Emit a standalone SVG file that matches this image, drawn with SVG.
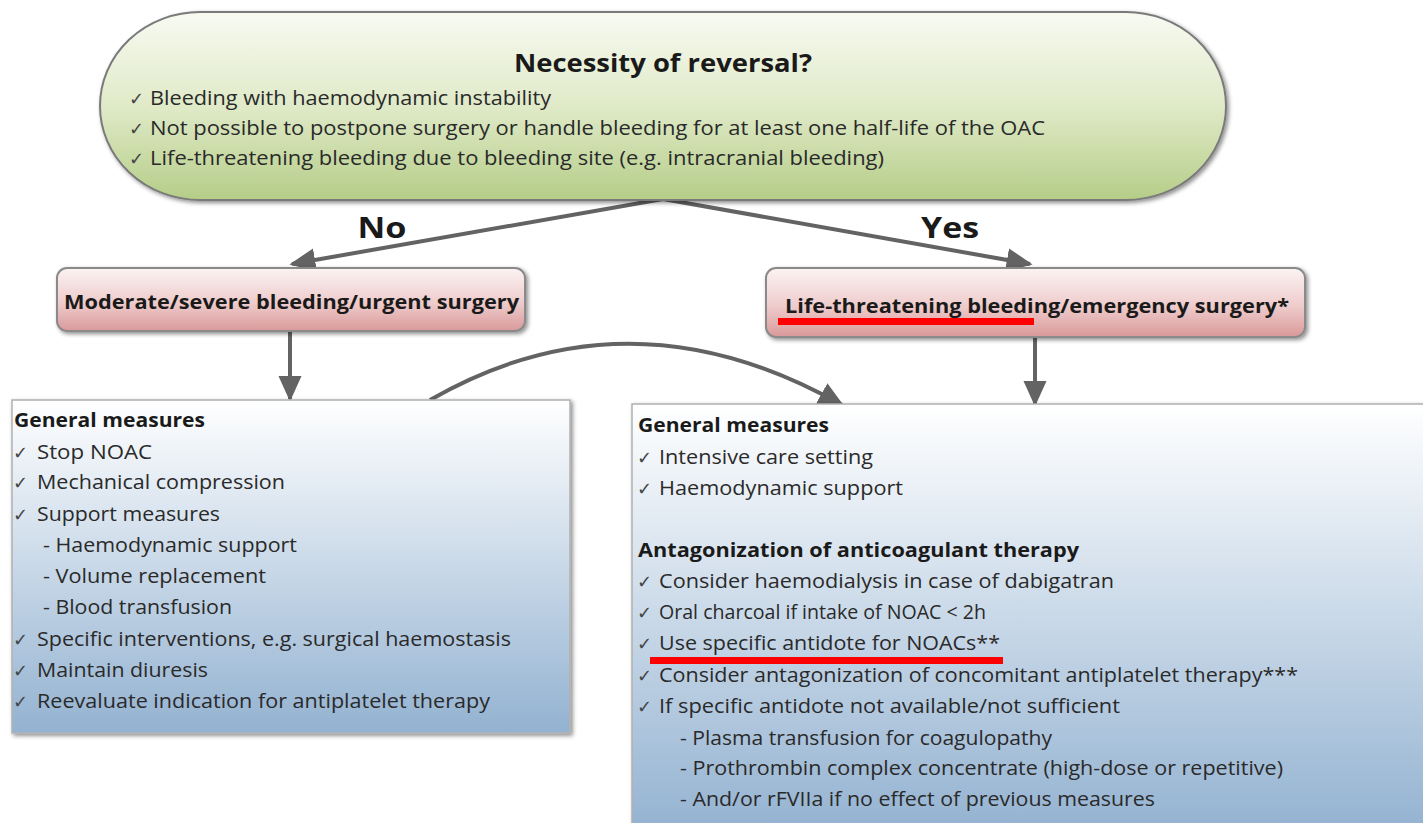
<svg xmlns="http://www.w3.org/2000/svg" width="1423" height="823" viewBox="0 0 1423 823">
<defs>
<linearGradient id="gGreen" x1="0" y1="0" x2="0" y2="1">
<stop offset="0" stop-color="#f8faf2"/>
<stop offset="0.5" stop-color="#e0eac8"/>
<stop offset="1" stop-color="#b5cd88"/>
</linearGradient>
<linearGradient id="gRed" x1="0" y1="0" x2="0" y2="1">
<stop offset="0" stop-color="#fbf3f3"/>
<stop offset="0.55" stop-color="#efcccc"/>
<stop offset="1" stop-color="#d9999a"/>
</linearGradient>
<linearGradient id="gBlue" x1="0" y1="0" x2="0" y2="1">
<stop offset="0" stop-color="#ffffff"/>
<stop offset="1" stop-color="#93b2d1"/>
</linearGradient>
<filter id="sh" x="-5%" y="-5%" width="110%" height="115%">
<feDropShadow dx="2" dy="2" stdDeviation="2" flood-color="#000" flood-opacity="0.45"/>
</filter>
<marker id="ah" viewBox="0 0 10 10" refX="9" refY="5" markerWidth="26" markerHeight="26" markerUnits="userSpaceOnUse" orient="auto">
<path d="M0,0.5 L10,5 L0,9.5 Z" fill="#636363"/>
</marker>
<style>
.t{font-family:"Open Sans","Noto Sans","Liberation Sans",sans-serif;fill:#2a2a2a;font-size:20px}
.b{font-family:"Open Sans","Noto Sans","Liberation Sans",sans-serif;fill:#1a1a1a;font-weight:bold}
.ck{font-family:"DejaVu Sans",sans-serif;fill:#444;font-size:18px}
.con{fill:none;stroke:#636363;stroke-width:4;marker-end:url(#ah)}
.ul{fill:#ff0000}
</style>
</defs>
<rect width="1423" height="823" fill="#ffffff"/>

<g id="connectors">
<path class="con" d="M663,199 L292,264"/>
<path class="con" d="M663,199 L1030,264"/>
<path class="con" d="M290,331 L290,399"/>
<path class="con" d="M1035,337 L1035,404"/>
<path class="con" d="M430,400 Q630,285 842,405"/>
</g>

<g id="n-reversal">
<rect x="100" y="12" width="1126" height="188" rx="100" ry="94" fill="url(#gGreen)" stroke="#7a7a7a" stroke-width="2" filter="url(#sh)"/>
<text class="b" x="663" y="72" text-anchor="middle" font-size="25" textLength="298" lengthAdjust="spacingAndGlyphs">Necessity of reversal?</text>
<text class="ck" x="129" y="105">✓</text>
<text class="t" x="150" y="105" textLength="401" lengthAdjust="spacingAndGlyphs">Bleeding with haemodynamic instability</text>
<text class="ck" x="129" y="135">✓</text>
<text class="t" x="150" y="135" textLength="895" lengthAdjust="spacingAndGlyphs">Not possible to postpone surgery or handle bleeding for at least one half-life of the OAC</text>
<text class="ck" x="129" y="165">✓</text>
<text class="t" x="150" y="165" textLength="734" lengthAdjust="spacingAndGlyphs">Life-threatening bleeding due to bleeding site (e.g. intracranial bleeding)</text>
</g>

<g id="label-no">
<text class="b" x="382" y="238" text-anchor="middle" font-size="28" textLength="49" lengthAdjust="spacingAndGlyphs">No</text>
</g>
<g id="label-yes">
<text class="b" x="950" y="238" text-anchor="middle" font-size="28" textLength="58" lengthAdjust="spacingAndGlyphs">Yes</text>
</g>

<g id="n-moderate">
<rect x="57" y="268" width="468" height="63" rx="10" fill="url(#gRed)" stroke="#8a8a8a" stroke-width="2" filter="url(#sh)"/>
<text class="b" x="64" y="309" font-size="19" textLength="455" lengthAdjust="spacingAndGlyphs">Moderate/severe bleeding/urgent surgery</text>
</g>

<g id="n-life">
<rect x="766" y="268" width="539" height="69" rx="10" fill="url(#gRed)" stroke="#8a8a8a" stroke-width="2" filter="url(#sh)"/>
<text class="b" x="785" y="313" font-size="19" textLength="504" lengthAdjust="spacingAndGlyphs">Life-threatening bleeding/emergency surgery*</text>
<rect class="ul" x="778" y="318" width="256" height="7"/>
</g>

<g id="n-left-measures">
<rect x="12" y="400" width="558" height="333" fill="url(#gBlue)" stroke="#b0b0b0" stroke-width="1.5" filter="url(#sh)"/>
<text class="b" x="14" y="427" font-size="19" textLength="191" lengthAdjust="spacingAndGlyphs">General measures</text>
<text class="ck" x="13" y="459">✓</text>
<text class="t" x="37" y="459" textLength="115" lengthAdjust="spacingAndGlyphs">Stop NOAC</text>
<text class="ck" x="13" y="489">✓</text>
<text class="t" x="37" y="489" textLength="248" lengthAdjust="spacingAndGlyphs">Mechanical compression</text>
<text class="ck" x="13" y="521">✓</text>
<text class="t" x="37" y="521" textLength="183" lengthAdjust="spacingAndGlyphs">Support measures</text>
<text class="t" x="43" y="552" textLength="254" lengthAdjust="spacingAndGlyphs">- Haemodynamic support</text>
<text class="t" x="43" y="583" textLength="223" lengthAdjust="spacingAndGlyphs">- Volume replacement</text>
<text class="t" x="43" y="614" textLength="189" lengthAdjust="spacingAndGlyphs">- Blood transfusion</text>
<text class="ck" x="13" y="646">✓</text>
<text class="t" x="37" y="646" textLength="474" lengthAdjust="spacingAndGlyphs">Specific interventions, e.g. surgical haemostasis</text>
<text class="ck" x="13" y="677">✓</text>
<text class="t" x="37" y="677" textLength="171" lengthAdjust="spacingAndGlyphs">Maintain diuresis</text>
<text class="ck" x="13" y="708">✓</text>
<text class="t" x="37" y="708" textLength="453" lengthAdjust="spacingAndGlyphs">Reevaluate indication for antiplatelet therapy</text>
</g>

<g id="n-right-measures">
<rect x="632" y="404" width="800" height="430" fill="url(#gBlue)" stroke="#b0b0b0" stroke-width="1.5" filter="url(#sh)"/>
<text class="b" x="638" y="432" font-size="19" textLength="191" lengthAdjust="spacingAndGlyphs">General measures</text>
<text class="ck" x="637" y="464">✓</text>
<text class="t" x="659" y="464" textLength="214" lengthAdjust="spacingAndGlyphs">Intensive care setting</text>
<text class="ck" x="637" y="495">✓</text>
<text class="t" x="659" y="495" textLength="244" lengthAdjust="spacingAndGlyphs">Haemodynamic support</text>
<text class="b" x="638" y="557" font-size="19" textLength="441" lengthAdjust="spacingAndGlyphs">Antagonization of anticoagulant therapy</text>
<text class="ck" x="637" y="588">✓</text>
<text class="t" x="659" y="588" textLength="455" lengthAdjust="spacingAndGlyphs">Consider haemodialysis in case of dabigatran</text>
<text class="ck" x="637" y="619">✓</text>
<text class="t" x="659" y="619" textLength="327" lengthAdjust="spacingAndGlyphs">Oral charcoal if intake of NOAC &lt; 2h</text>
<text class="ck" x="637" y="650">✓</text>
<text class="t" x="659" y="650" textLength="341" lengthAdjust="spacingAndGlyphs">Use specific antidote for NOACs**</text>
<rect class="ul" x="650" y="657" width="353" height="7"/>
<text class="ck" x="637" y="682">✓</text>
<text class="t" x="659" y="682" textLength="639" lengthAdjust="spacingAndGlyphs">Consider antagonization of concomitant antiplatelet therapy***</text>
<text class="ck" x="637" y="713">✓</text>
<text class="t" x="659" y="713" textLength="461" lengthAdjust="spacingAndGlyphs">If specific antidote not available/not sufficient</text>
<text class="t" x="680" y="745" textLength="372" lengthAdjust="spacingAndGlyphs">- Plasma transfusion for coagulopathy</text>
<text class="t" x="680" y="775" textLength="603" lengthAdjust="spacingAndGlyphs">- Prothrombin complex concentrate (high-dose or repetitive)</text>
<text class="t" x="680" y="806" textLength="475" lengthAdjust="spacingAndGlyphs">- And/or rFVIIa if no effect of previous measures</text>
</g>
</svg>
